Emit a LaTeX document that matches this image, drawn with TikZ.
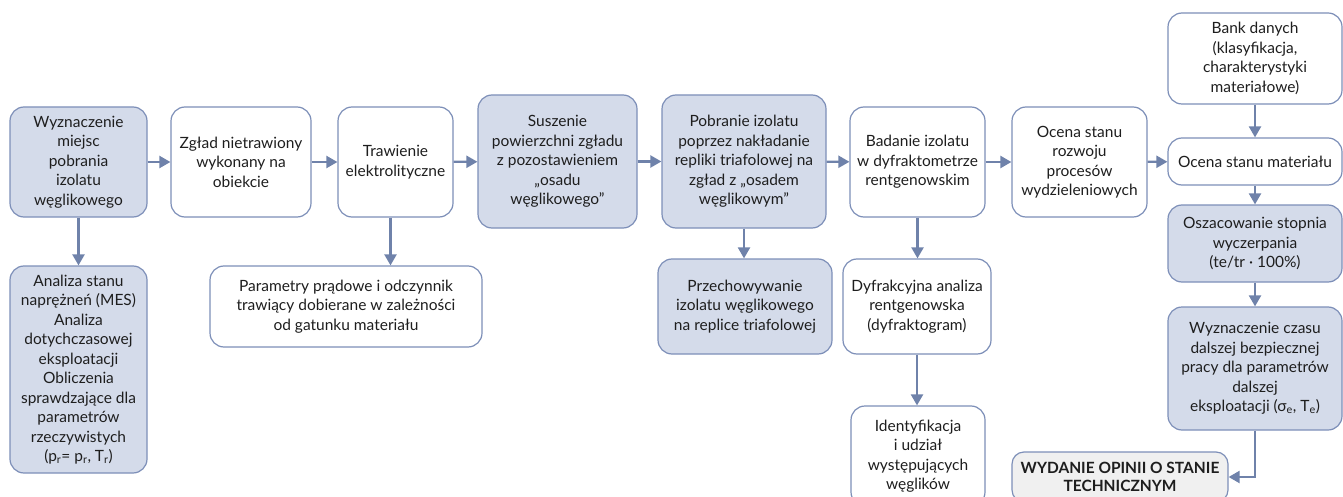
\documentclass[tikz,border=0pt]{standalone}
\usepackage{fontspec}
\setmainfont{Lato}
\usetikzlibrary{arrows.meta}
\definecolor{fillcol}{HTML}{D4DBEA}
\definecolor{bordercol}{HTML}{7D8FB8}
\definecolor{arrowcol}{HTML}{6F82AA}
\definecolor{textcol}{HTML}{1E1E1E}
\definecolor{greycol}{HTML}{F0F0F0}
\tikzset{
  box/.style={draw=bordercol, line width=1.2pt, rounded corners=14pt,
    align=center, inner sep=0pt, text=textcol,
    font=\fontsize{15.5}{19.5}\selectfont},
  shaded/.style={box, fill=fillcol},
  plain/.style={box, fill=white},
  final/.style={box, fill=greycol, rounded corners=12pt,
    font=\fontsize{15.5}{18}\selectfont\bfseries},
  arr/.style={draw=arrowcol, line width=2.2pt,
    -{Triangle[length=11pt,width=12pt]}},
}
\begin{document}
\begin{tikzpicture}[x=1pt,y=-1pt]
\useasboundingbox (0,0) rectangle (1343,497);
\begin{scope}
\clip (0,0) rectangle (1343,497);
% main row
\node[shaded, minimum width=137pt, minimum height=110pt] (A) at (78.5,162)
  {Wyznaczenie\\miejsc\\pobrania\\izolatu\\węglikowego};
\node[plain, minimum width=140pt, minimum height=110pt] (B) at (241,162)
  {Zgład nietrawiony\\wykonany na\\obiekcie};
\node[plain, minimum width=115pt, minimum height=110pt] (C) at (395.5,162)
  {Trawienie\\elektrolityczne};
\node[shaded, minimum width=159pt, minimum height=133pt] (D) at (557.5,161.5)
  {Suszenie\\powierzchni zgładu\\z pozostawieniem\\„osadu\\węglikowego”};
\node[shaded, minimum width=164pt, minimum height=133pt] (E) at (744,161.5)
  {Pobranie izolatu\\poprzez nakładanie\\repliki triafolowej na\\zgład z „osadem\\węglikowym”};
\node[plain, minimum width=135pt, minimum height=110pt] (F) at (917.5,162)
  {Badanie izolatu\\w dyfraktometrze\\rentgenowskim};
\node[plain, minimum width=135pt, minimum height=110pt] (G) at (1079.5,162)
  {Ocena stanu\\rozwoju\\procesów\\wydzieleniowych};
% right column
\node[plain, minimum width=174pt, minimum height=91pt] (H) at (1255,58.5)
  {Bank danych\\(klasyfikacja,\\charakterystyki\\materiałowe)};
\node[plain, minimum width=174pt, minimum height=47pt] (I) at (1255,161.5)
  {Ocena stanu materiału};
\node[shaded, minimum width=174pt, minimum height=77pt] (J) at (1255,243.5)
  {Oszacowanie stopnia\\wyczerpania\\(te/tr · 100\%)};
\node[shaded, minimum width=174pt, minimum height=123pt] (K) at (1255,368.5)
  {Wyznaczenie czasu\\dalszej bezpiecznej\\pracy dla parametrów\\dalszej\\eksploatacji (σ\textsubscript{e}, T\textsubscript{e})};
\node[final, minimum width=216pt, minimum height=50pt] (L) at (1120,477)
  {WYDANIE OPINII O STANIE\\TECHNICZNYM};
% lower row
\node[shaded, minimum width=137pt, minimum height=207pt] (M) at (78.5,369.5)
  {Analiza stanu\\naprężneń (MES)\\Analiza\\dotychczasowej\\eksploatacji\\Obliczenia\\sprawdzające dla\\parametrów\\rzeczywistych\\(p\textsubscript{r}= p\textsubscript{r}, T\textsubscript{r})};
\node[plain, minimum width=272pt, minimum height=81pt] (N) at (346,306.5)
  {Parametry prądowe i odczynnik\\trawiący dobierane w zależności\\od gatunku materiału};
\node[shaded, minimum width=174pt, minimum height=95pt] (O) at (745,306.5)
  {Przechowywanie\\izolatu węglikowego\\na replice triafolowej};
\node[plain, minimum width=148pt, minimum height=95pt] (P) at (917,306.5)
  {Dyfrakcyjna analiza\\rentgenowska\\(dyfraktogram)};
\node[plain, minimum width=134pt, minimum height=100pt] (Q) at (918,456)
  {Identyfikacja\\i udział\\występujących\\węglików};
% connectors
\draw[arr] (A) -- (B);
\draw[arr] (B) -- (C);
\draw[arr] (C) -- (D);
\draw[arr] (D) -- (E);
\draw[arr] (E) -- (F);
\draw[arr] (F) -- (G);
\draw[arr] (G) -- (I);
\draw[arr] (H) -- (I);
\draw[arr] (I) -- (J);
\draw[arr] (J) -- (K);
\draw[arr] (K.south) |- (L.east);
\draw[arr] (A.south) -- (M.north);
\draw[arr] ([xshift=-5pt]C.south) -- ([xshift=-5pt]C.south |- N.north);
\draw[arr] (E.south) -- (E.south |- O.north);
\draw[arr] (F.south) -- (F.south |- P.north);
\draw[arr] (P.south) -- (P.south |- Q.north);
\end{scope}
\end{tikzpicture}
\end{document}
